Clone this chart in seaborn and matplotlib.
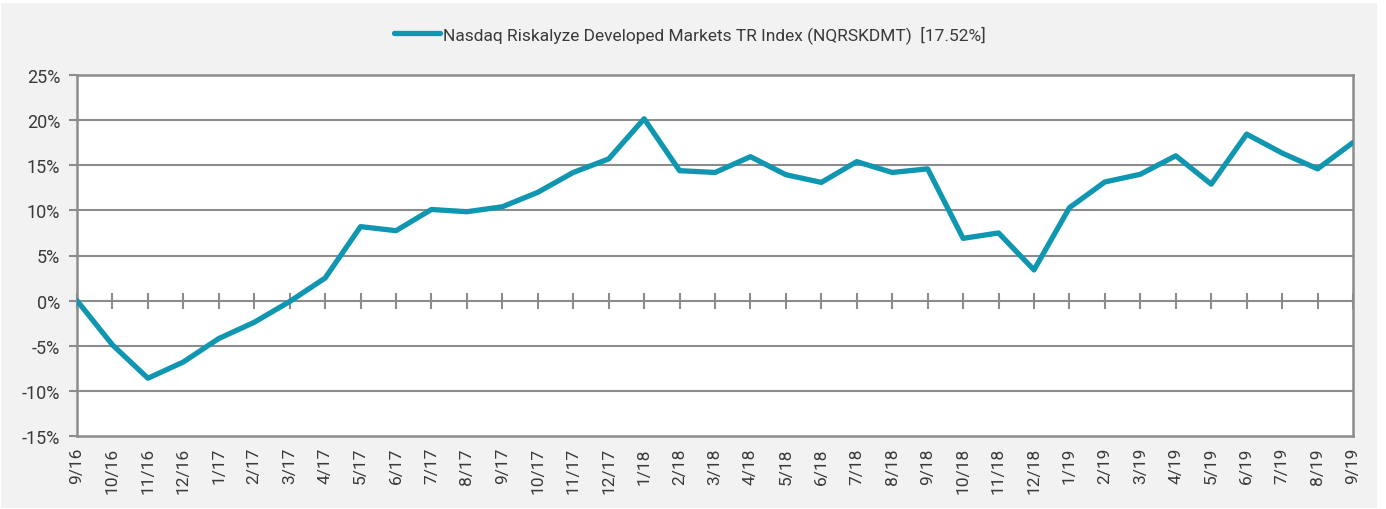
import matplotlib
matplotlib.use("Agg")
import matplotlib.pyplot as plt
from matplotlib.patches import Rectangle
import seaborn as sns
import pandas as pd

months = ["9/16", "10/16", "11/16", "12/16", "1/17", "2/17", "3/17", "4/17", "5/17",
          "6/17", "7/17", "8/17", "9/17", "10/17", "11/17", "12/17", "1/18", "2/18",
          "3/18", "4/18", "5/18", "6/18", "7/18", "8/18", "9/18", "10/18", "11/18",
          "12/18", "1/19", "2/19", "3/19", "4/19", "5/19", "6/19", "7/19", "8/19", "9/19"]
cum_return = [0.0, -4.9, -8.6, -6.8, -4.2, -2.4, -0.1, 2.5, 8.2,
              7.75, 10.1, 9.85, 10.4, 12.0, 14.2, 15.7, 20.15, 14.4,
              14.2, 15.95, 13.95, 13.1, 15.4, 14.2, 14.6, 6.9, 7.5,
              3.4, 10.3, 13.15, 14.0, 16.05, 12.9, 18.45, 16.35, 14.6, 17.52]
series_name = "Nasdaq Riskalyze Developed Markets TR Index (NQRSKDMT)  [17.52%]"
y_ticks = [-15, -10, -5, 0, 5, 10, 15, 20, 25]

df = pd.DataFrame({"pos": range(len(months)), "ret": cum_return})

sns.set_theme(style="white")
plt.rcParams["font.family"] = ["Roboto", "DejaVu Sans"]
plt.rcParams["font.weight"] = "normal"

text_color = "#3a3a3a"
grid_color = "#8c8c8c"
line_color = "#0f96b1"

fig = plt.figure(figsize=(13.86, 5.10), dpi=100, facecolor="white")
fig.patches.append(Rectangle((1 / 1386, 1 / 510), 1376 / 1386, 505 / 510,
                             transform=fig.transFigure, facecolor="#f2f2f2",
                             edgecolor="none", zorder=-10))
ax = fig.add_axes([77 / 1386, (510 - 437) / 510, (1353 - 77) / 1386, 361 / 510])
ax.set_facecolor("white")

sns.lineplot(data=df, x="pos", y="ret", ax=ax, color=line_color, linewidth=3.8,
             label=series_name, legend=False, zorder=5)

ax.set_xlim(0, len(months) - 1)
ax.set_ylim(-15, 25)
ax.set_yticks(y_ticks)
ax.set_yticklabels([f"{t}%" for t in y_ticks])
ax.set_xticks(range(len(months)))
ax.set_xticklabels(months, rotation=90)
ax.set_xlabel("")
ax.set_ylabel("")

for y in y_ticks:
    if y not in (-15, 25):
        ax.axhline(y, color=grid_color, linewidth=1.5, zorder=1)

for sp in ax.spines.values():
    sp.set_color(grid_color)
    sp.set_linewidth(1.8)
    sp.set_visible(True)

ax.tick_params(axis="x", length=0, pad=8, labelsize=12.5, labelcolor=text_color)
ax.tick_params(axis="y", length=6, width=1.5, color=grid_color, direction="out",
               pad=6, labelsize=13, labelcolor=text_color, left=True)

# category axis crossing at 0%
zero_axis = ax.secondary_xaxis(15 / 40)
zero_axis.set_xticks(range(len(months)))
zero_axis.set_xticklabels([])
zero_axis.tick_params(axis="x", direction="inout", length=11, width=1.5, color=grid_color)
zero_axis.spines["bottom"].set_visible(False)
zero_axis.spines["top"].set_visible(False)

handles, labels = ax.get_legend_handles_labels()
fig.legend(handles, labels, loc="center", bbox_to_anchor=(690 / 1386, 1 - 35 / 510),
           frameon=False, fontsize=12.5, handlelength=2.65, handletextpad=0.15,
           labelcolor=text_color)

fig.savefig("out.png", dpi=100, facecolor=fig.get_facecolor())
